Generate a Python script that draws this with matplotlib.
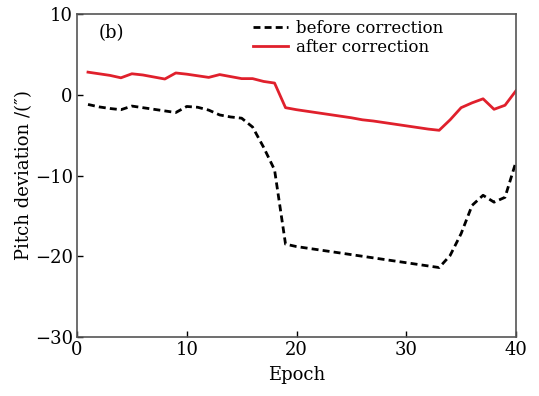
import matplotlib
matplotlib.use("Agg")
import matplotlib.pyplot as plt

epochs = list(range(1, 41))

before = [-1.2, -1.5, -1.7, -1.85, -1.4, -1.6, -1.8, -2.0, -2.2, -1.45,
          -1.55, -1.9, -2.5, -2.75, -2.9, -4.0, -6.5, -9.3, -18.5, -18.8,
          -19.0, -19.2, -19.4, -19.6, -19.8, -20.0, -20.2, -20.4, -20.6, -20.8,
          -21.0, -21.2, -21.4, -19.9, -17.2, -13.7, -12.45, -13.3, -12.7, -8.3]

after = [2.8, 2.6, 2.4, 2.1, 2.6, 2.45, 2.2, 1.95, 2.7, 2.55,
         2.35, 2.15, 2.5, 2.25, 2.0, 2.0, 1.65, 1.45, -1.6, -1.85,
         -2.05, -2.25, -2.45, -2.65, -2.85, -3.1, -3.25, -3.45, -3.65, -3.85,
         -4.05, -4.25, -4.4, -3.1, -1.6, -1.0, -0.5, -1.8, -1.3, 0.5]

plt.rcParams['font.family'] = ['DejaVu Serif']
plt.rcParams['font.size'] = 13

fig = plt.figure(figsize=(5.39, 3.96), dpi=100)
ax = fig.add_axes([0.1429, 0.149, 0.8144, 0.8156])

ax.plot(epochs, before, color='black', linestyle=(0, (2.5, 1.5)), linewidth=2.0,
        label='before correction')
ax.plot(epochs, after, color='#e0202c', linewidth=2.0, label='after correction')

ax.set_xlim(0, 40)
ax.set_ylim(-30, 10)
ax.set_xticks([0, 10, 20, 30, 40])
ax.set_yticks([-30, -20, -10, 0, 10])
ax.tick_params(direction='in', length=4, width=1, top=False, right=False, pad=3)
for s in ax.spines.values():
    s.set_color('#555555')
    s.set_linewidth(1.2)

ax.set_xlabel('Epoch', labelpad=5)
ax.set_ylabel('Pitch deviation /(\u2033)', labelpad=1)

ax.text(0.05, 0.94, '(b)', transform=ax.transAxes, ha='left', va='center')
ax.legend(loc='upper left', bbox_to_anchor=(0.4, 0.982), frameon=False,
          fontsize=12, handlelength=2.1, handletextpad=0.5, labelspacing=0.15,
          borderaxespad=0, borderpad=0)

fig.savefig('out.png', dpi=100)
